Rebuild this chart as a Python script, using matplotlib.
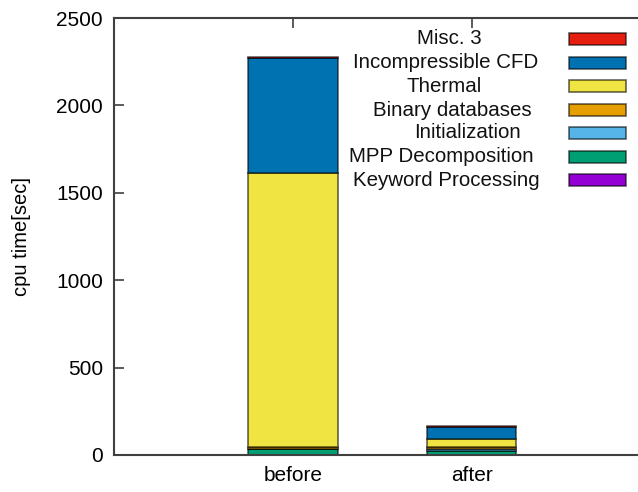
import numpy as np
import matplotlib.pyplot as plt
from matplotlib.patches import Rectangle

plt.rcParams['font.family'] = ['Liberation Sans', 'DejaVu Sans']

# data (bottom -> top of each stack)
categories = ["before", "after"]
series = ["Keyword Processing", "MPP Decomposition", "Initialization",
          "Binary databases", "Thermal", "Incompressible CFD", "Misc. 3"]
before = [2, 30, 3, 8, 1570, 660, 4]
after = [1, 20, 12, 14, 42, 73, 3]
colors = ["#9400d3", "#009e73", "#56b4e9", "#e69f00",
          "#f0e442", "#0072b2", "#e51e10"]

edge = (0, 0, 0, 0.6)
axc = "#404040"

fig = plt.figure(figsize=(6.38, 4.92), dpi=100)
ax = fig.add_axes([114/638, 37/492, 1 - 114/638, 437/492])

x = np.arange(len(categories))
vals = np.array([before, after]).T
bottom = np.zeros(len(categories))
for name, v, c in zip(series, vals, colors):
    ax.bar(x, v, 0.5, bottom=bottom, color=c, edgecolor=edge,
           linewidth=1.2, label=name, zorder=2)
    bottom += v

ax.set_xlim(-1, 1.93)
ax.set_ylim(0, 2500)
ax.set_yticks(np.arange(0, 2501, 500))
ax.set_xticks(x)
ax.set_xticklabels(categories)
ax.set_ylabel("cpu time[sec]", fontsize=14.5, labelpad=18)

for s in ["left", "bottom", "top"]:
    ax.spines[s].set_color(axc)
    ax.spines[s].set_linewidth(1.5)
ax.spines["right"].set_visible(False)
ax.tick_params(axis="both", direction="in", length=7, width=1.2,
               color=axc, labelsize=15, top=True, pad=8)
for t in ax.get_xticklines():
    t.set_zorder(3)

# key, drawn the way the original tool lays it out
label_cx = [449, 446, 444, 452, 467, 441, 446]
row_y = [39, 63, 86, 110, 133, 157, 180]
for name, c, cx, ry in zip(series[::-1], colors[::-1], label_cx, row_y):
    fig.text(cx/638, 1 - ry/492, name, ha="center", va="center",
             fontsize=14.8, color="#111111")
    fig.patches.append(Rectangle((569/638, 1 - (ry + 6)/492), 57/638, 12/492,
                                 transform=fig.transFigure, facecolor=c,
                                 edgecolor=edge, linewidth=1.2))

fig.savefig("out.png", dpi=100)
